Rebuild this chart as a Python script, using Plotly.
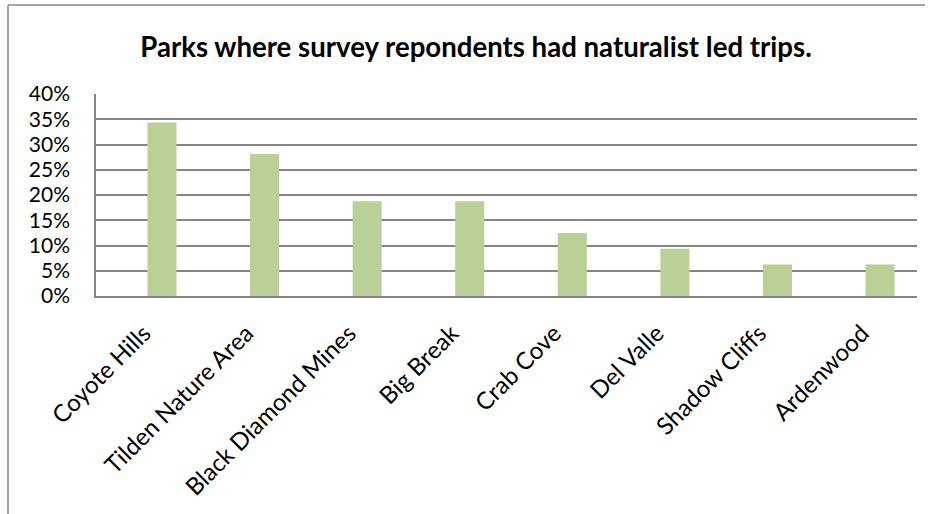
import plotly.graph_objects as go

parks = ["Coyote Hills", "Tilden Nature Area", "Black Diamond Mines", "Big Break",
         "Crab Cove", "Del Valle", "Shadow Cliffs", "Ardenwood"]
shares = [0.34375, 0.28125, 0.1875, 0.1875, 0.125, 0.09375, 0.0625, 0.0625]
y_ticks = [0, 0.05, 0.10, 0.15, 0.20, 0.25, 0.30, 0.35, 0.40]
y_tick_labels = ["0%", "5%", "10%", "15%", "20%", "25%", "30%", "35%", "40%"]

W, H = 935, 514
L, R, T, B = 96, 935 - 917, 94, 514 - 296
pw, ph = W - L - R, H - T - B

def px_x(x):
    return (x - L) / pw

def px_y(y):
    return (H - B - y) / ph

fig = go.Figure(go.Bar(
    x=list(range(len(parks))), y=shares, width=0.283,
    marker=dict(color="#BBD096", line=dict(width=0)),
))

grid = "#868686"
fig.update_layout(
    width=W, height=H,
    margin=dict(l=L, r=R, t=T, b=B, autoexpand=False),
    paper_bgcolor="white", plot_bgcolor="white",
    showlegend=False,
    title=dict(text="<b>Parks where survey repondents had naturalist led trips.</b>",
               x=476 / W, xref="container", xanchor="center",
               y=1 - 47 / H, yref="container", yanchor="middle",
               font=dict(family="Lato", size=27.6, color="black")),
    font=dict(family="Lato", color="black"),
    xaxis=dict(range=[-0.643, 7.36], tickmode="array",
               tickvals=list(range(len(parks))), ticktext=parks,
               tickangle=-45, tickfont=dict(size=24), showgrid=False,
               showline=True, linecolor=grid, linewidth=1.6,
               zeroline=False, ticks="",
               ticklabelshift=-18, ticklabelstandoff=12),
    yaxis=dict(range=[0, 0.40], tickmode="array", tickvals=y_ticks,
               ticktext=y_tick_labels, tickfont=dict(size=21),
               showgrid=True, gridcolor=grid, gridwidth=1.6,
               showline=True, linecolor=grid, linewidth=1.6,
               zeroline=False, ticks="", ticklabelstandoff=20),
    shapes=[
        dict(type="line", xref="paper", yref="paper",
             x0=px_x(8), x1=px_x(8), y0=px_y(5), y1=px_y(530),
             line=dict(color=grid, width=1.5)),
        dict(type="line", xref="paper", yref="paper",
             x0=px_x(8), x1=px_x(925), y0=px_y(5), y1=px_y(5),
             line=dict(color=grid, width=1.5)),
    ],
)

fig.write_html("out.html", config={"displayModeBar": False},
               post_script="document.body.style.margin='0px';")
